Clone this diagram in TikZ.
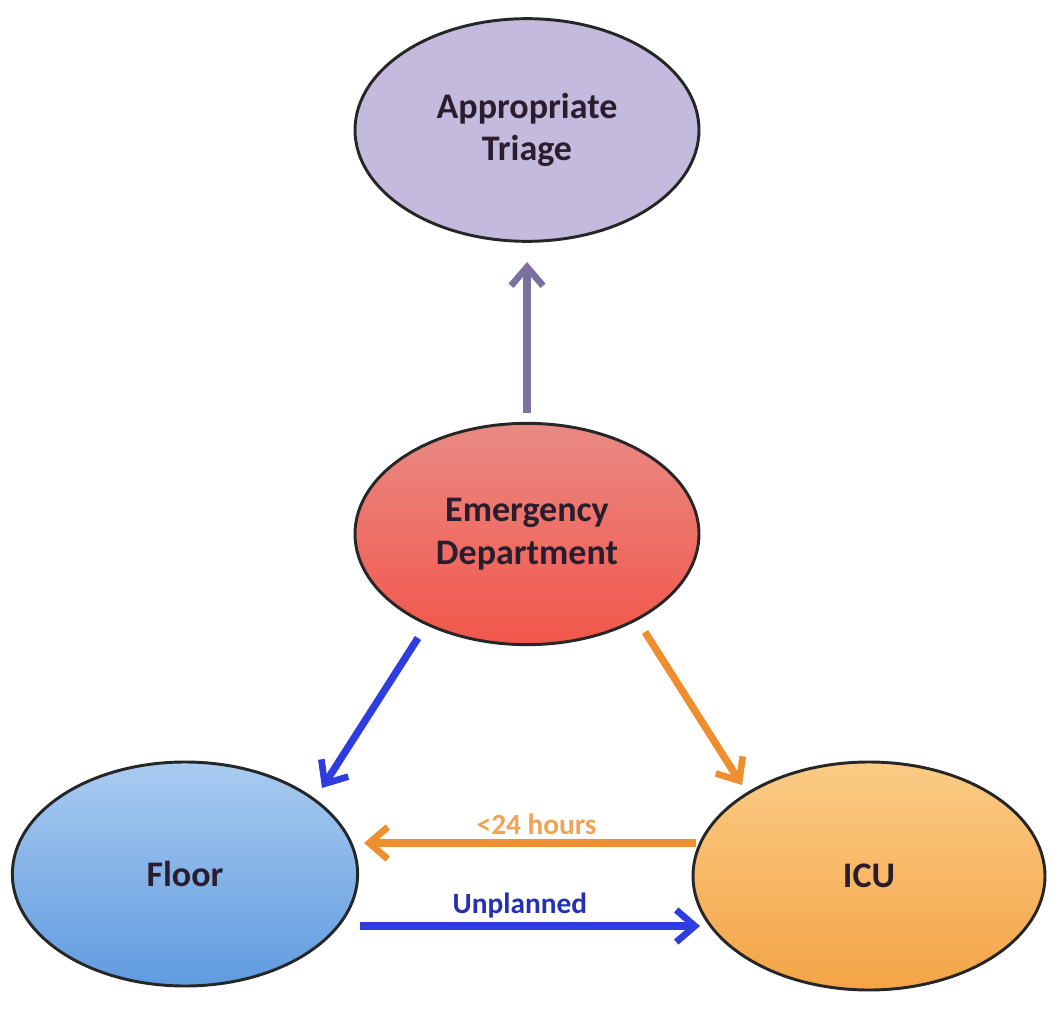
\documentclass[tikz,border=0pt]{standalone}
\usepackage{fontspec}
\setmainfont{Carlito}
\usetikzlibrary{shapes.geometric,arrows.meta}
\definecolor{triagefill}{HTML}{C4BADD}
\definecolor{edtop}{HTML}{E98A84}
\definecolor{edbot}{HTML}{F2564A}
\definecolor{floortop}{HTML}{A9CBF0}
\definecolor{floorbot}{HTML}{5F9BE0}
\definecolor{icutop}{HTML}{FBCB85}
\definecolor{icubot}{HTML}{F4A446}
\definecolor{purplearrow}{HTML}{7B70A0}
\definecolor{bluearrow}{HTML}{2E3CE0}
\definecolor{orangearrow}{HTML}{EE8E2E}
\definecolor{txt}{HTML}{2A1E2E}
\tikzset{
  blob/.style={ellipse, draw=black!85, line width=2.2pt, inner sep=0pt,
    font=\fontsize{27}{32}\selectfont\bfseries, text=txt, align=center},
  conn/.style={line width=5.5pt, -{Straight Barb[length=14pt,width=24pt,line width=5pt]}},
  lbl/.style={font=\fontsize{22}{24}\selectfont\bfseries}
}
\begin{document}
\begin{tikzpicture}[x=0.75pt,y=-0.75pt]
\useasboundingbox (0,0) rectangle (1050,1009);
\node[blob, fill=triagefill, minimum width=258pt, minimum height=167pt] (tri) at (527,130) {Appropriate\\Triage};
\node[blob, top color=edtop, bottom color=edbot, minimum width=258pt, minimum height=166pt] (ed) at (527,534) {Emergency\\Department};
\node[blob, top color=floortop, bottom color=floorbot, minimum width=259pt, minimum height=168pt] (fl) at (185,874) {Floor};
\node[blob, top color=icutop, bottom color=icubot, minimum width=264pt, minimum height=171pt] (icu) at (869,876) {ICU};
\coordinate (edtop) at (527,413);
\coordinate (tribot) at (527,262);
\draw[conn, draw=purplearrow] (edtop) -- (tribot);
\coordinate (edl) at (418,638);
\coordinate (flt) at (322,788);
\draw[conn, draw=bluearrow] (edl) -- (flt);
\coordinate (edr) at (645,632);
\coordinate (icut) at (742,785);
\draw[conn, draw=orangearrow] (edr) -- (icut);
\coordinate (icul) at (696,843);
\coordinate (flr) at (364,843);
\draw[conn, draw=orangearrow] (icul) -- node[lbl, text=orangearrow!80, above=0pt, pos=0.48] (l1) {<24 hours} (flr);
\coordinate (fll) at (360,926);
\coordinate (icull) at (700,926);
\draw[conn, draw=bluearrow] (fll) -- node[lbl, text=bluearrow!80!black, above=0pt, pos=0.47] (l2) {Unplanned} (icull);
\end{tikzpicture}
\end{document}
